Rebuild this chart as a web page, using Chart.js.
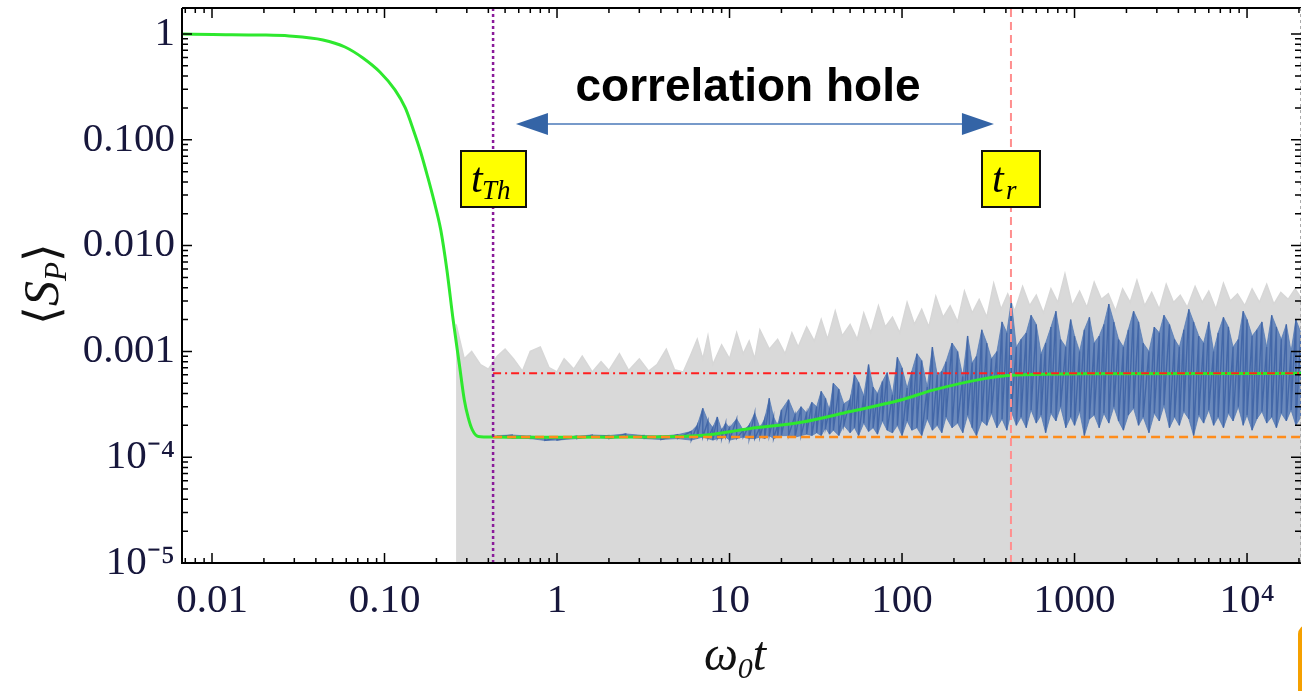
<!DOCTYPE html>
<html>
<head>
<meta charset="utf-8">
<script src="https://cdn.jsdelivr.net/npm/chart.js@4/dist/chart.umd.min.js"></script>
<style>
  html, body { margin: 0; padding: 0; background: #fff; }
  canvas { display: block; }
</style>
</head>
<body>
<canvas id="sp-chart" width="1302" height="691"></canvas>
<script>
// axis ranges and tick labels
var xMin = 0.0067, xMax = 20550, yMin = 1e-5, yMax = 1.76;
var xTickValues = [0.01, 0.1, 1, 10, 100, 1000, 10000];
var xTickLabels = ['0.01', '0.10', '1', '10', '100', '1000', '10\u2074'];
var yTickValues = [1e-5, 1e-4, 1e-3, 0.01, 0.1, 1];
var yTickLabels = ['10\u207b\u2075', '10\u207b\u2074', '0.001', '0.010', '0.100', '1'];

// markers
var tTh = 0.426, tR = 428;
var redLevel = 6.2e-4, orangeLevel = 1.55e-4;

// averaged curve (green)
var greenT = [0.0068, 0.0101, 0.019, 0.028, 0.044, 0.059, 0.075, 0.094, 0.115, 0.132,
    0.147, 0.162, 0.178, 0.193, 0.212, 0.23, 0.25, 0.272, 0.29, 0.306,
    0.323, 0.35, 0.42, 1, 3, 6.8, 13, 26, 50, 97,
    151, 295, 428, 1400, 20550];
var greenY = [1.0, 0.989, 0.978, 0.957, 0.878, 0.753, 0.593, 0.437, 0.296, 0.2,
    0.124, 0.0767, 0.0445, 0.027, 0.014, 0.00588, 0.00198, 7.4e-4, 3.5e-4, 2.35e-4,
    1.81e-4, 1.57e-4, 1.55e-4, 1.54e-4, 1.55e-4, 1.6e-4, 1.86e-4, 2.14e-4, 2.7e-4, 3.45e-4,
    4.3e-4, 5.5e-4, 5.95e-4, 6.15e-4, 6.2e-4];

// single realisation (blue), high / low excursions in units of 1e-4
var blueT = [0.45, 0.55, 0.7, 0.85, 1.0, 1.3, 1.6, 2.0, 2.5, 3.2, 4.0, 5.0, 6.0,
    6.5, 7, 7.5, 8, 8.5, 9, 9.5, 10, 11, 12, 13, 14, 15, 16, 17, 18, 19, 20, 22, 24, 26, 28, 30,
    32, 34, 36, 38, 40, 43, 46, 50, 53, 56,
    60, 64, 68, 72, 77, 82, 88, 94, 100, 107,
    114, 122, 130, 140, 150, 160, 170, 180, 195, 210,
    225, 240, 255, 270, 290, 310, 330, 355, 380, 405,
    430, 460, 490, 525, 560, 600, 640, 680, 730, 780,
    830, 890, 950, 1000, 1070, 1140, 1220, 1300, 1390, 1480,
    1580, 1690, 1800, 1920, 2050, 2200, 2350, 2500, 2700, 2900,
    3100, 3300, 3550, 3800, 4050, 4300, 4600, 4900, 5250, 5600,
    6000, 6400, 6800, 7300, 7800, 8300, 8900, 9500, 10000, 10700,
    11400, 12200, 13000, 13900, 14800, 15800, 16900, 18000, 19200, 20500];
var blueHi = [1.6, 1.62, 1.58, 1.55, 1.52, 1.58, 1.62, 1.6, 1.66, 1.6, 1.58, 1.63, 1.75,
    2.0, 2.9, 2.2, 1.9, 2.4, 1.8, 2.1, 1.9, 2.3, 1.8, 2.0, 2.6, 1.9, 2.3, 3.6, 2.4, 2.0, 2.8, 3.5, 2.5, 3.0, 2.6, 3.3,
    3.0, 4.2, 3.6, 2.8, 5.0, 4.4, 3.2, 3.5, 6.0, 5.1,
    3.8, 7.5, 4.6, 4.0, 5.2, 6.3, 3.9, 8.8, 7.0, 4.5,
    6.5, 9.5, 8.2, 4.6, 11, 6.0, 6.5, 8.0, 12, 10,
    5.8, 14, 7.8, 9.0, 16, 12, 8.5, 10, 19, 15,
    30, 11, 13, 15, 22, 18, 9.5, 12, 17, 24,
    13, 11, 20, 14, 10, 16, 21, 12, 14, 18,
    28, 19, 13, 11, 16, 24, 19, 12, 10, 17,
    15, 22, 18, 13, 11, 16, 25, 19, 14, 12,
    19, 10, 15, 21, 17, 11, 13, 24, 20, 14,
    16, 19, 11, 22, 17, 13, 18, 10, 20, 15];
var blueLo = [1.55, 1.52, 1.5, 1.44, 1.45, 1.5, 1.55, 1.5, 1.55, 1.5, 1.47, 1.5, 1.45,
    1.5, 1.55, 1.5, 1.45, 1.5, 1.5, 1.55, 1.45, 1.5, 1.55, 1.5, 1.5, 1.55, 1.5, 1.6, 1.5, 1.55, 1.6, 1.6, 1.55, 1.6, 1.65, 1.6,
    1.7, 1.6, 1.9, 1.65, 1.8, 1.6, 2.0, 1.7, 1.9, 1.6,
    2.1, 1.75, 1.9, 1.65, 2.2, 1.8, 1.7, 2.0, 1.6, 2.2,
    1.8, 1.9, 1.6, 2.3, 1.8, 2.0, 1.7, 2.4, 1.9, 2.1,
    1.7, 2.5, 1.9, 1.6, 2.2, 2.0, 2.6, 1.9, 2.3, 1.8,
    2.7, 2.0, 2.4, 1.9, 2.8, 2.1, 2.5, 1.7, 2.6, 2.2,
    3.0, 1.9, 2.4, 2.0, 2.7, 1.6, 2.3, 2.5, 1.9, 2.6,
    2.1, 3.0, 2.2, 1.8, 2.5, 2.9, 2.0, 2.4, 1.7, 2.6,
    2.2, 3.1, 1.9, 2.4, 2.0, 2.7, 2.3, 1.6, 2.5, 2.1,
    2.8, 2.0, 2.4, 1.9, 2.6, 2.2, 3.0, 2.0, 2.5, 1.8,
    2.3, 2.7, 2.1, 2.4, 1.9, 2.6, 2.2, 2.8, 2.0, 2.4];

// ensemble of realisations (grey band), upper envelope in units of 1e-4
var grayT = [0.26, 0.29, 0.32, 0.36, 0.4, 0.45, 0.5, 0.56, 0.63, 0.7,
    0.8, 0.9, 1.0, 1.1, 1.25, 1.4, 1.6, 1.8, 2.0, 2.3,
    2.6, 3.0, 3.4, 3.8, 4.3, 4.8, 5.4, 6, 6.5, 7,
    7.5, 8, 9, 10, 11, 12, 13, 14, 15, 17,
    19, 21, 23, 25, 28, 31, 34, 37, 41, 45,
    50, 55, 60, 66, 73, 80, 88, 97, 107, 118,
    130, 143, 157, 173, 190, 210, 230, 255, 280, 310,
    340, 375, 410, 450, 500, 550, 600, 660, 730, 800,
    880, 970, 1070, 1180, 1300, 1430, 1570, 1730, 1900, 2100,
    2300, 2550, 2800, 3100, 3400, 3750, 4100, 4500, 5000, 5500,
    6000, 6600, 7300, 8000, 8800, 9700, 10700, 11800, 13000, 14300,
    15700, 17300, 19000, 20550];
var grayTop = [18, 8.5, 10, 7.5, 6.8, 9, 10.5, 8.5, 6.5, 10,
    11, 7, 6.4, 8.5, 6.8, 9, 6.4, 8, 6.6, 9.5,
    6.6, 8.5, 6.5, 7.5, 10.5, 6.7, 6.4, 9.5, 13, 8.5,
    14, 7.5, 11.5, 8.5, 15, 9.5, 12.5, 8.5, 16, 10.5,
    13, 9.5, 15, 11, 17, 12.5, 20, 13, 24, 14,
    18, 13, 23, 15, 27, 17, 21, 15, 29, 18,
    25, 17, 33, 21, 27, 19, 37, 23, 31, 21,
    44, 25, 35, 24, 41, 27, 34, 23, 39, 29,
    54, 27, 37, 26, 45, 31, 35, 24, 39, 29,
    47, 27, 36, 25, 43, 29, 34, 26, 41, 29,
    37, 25, 44, 30, 35, 27, 39, 29, 43, 28,
    36, 31, 39, 32];

var greenData = greenT.map(function (t, i) { return { x: t, y: greenY[i] }; });
var grayData = grayT.map(function (t, i) { return { x: t, y: grayTop[i] * 1e-4 }; });
var blueHiData = blueT.map(function (t, i) { return { x: t, y: blueHi[i] * 1e-4 }; });
var blueLoData = blueT.map(function (t, i) { return { x: t, y: blueLo[i] * 1e-4 }; });
var blueZigzag = [];
blueT.forEach(function (t, i) {
    blueZigzag.push({ x: t, y: blueHi[i] * 1e-4 });
    blueZigzag.push({ x: t, y: blueLo[i] * 1e-4 });
});

var serif = '"Liberation Serif", "Times New Roman", serif';
var labelColor = '#17173c';

// frame, inward ticks, boxes, arrow and titles
var decorations = {
    id: 'decorations',
    afterDatasetsDraw: function (chart) {
        var ctx = chart.ctx, a = chart.chartArea;
        var xs = chart.scales.x, ys = chart.scales.y;
        ctx.save();

        // frame
        ctx.lineWidth = 2;
        ctx.strokeStyle = '#000';
        ctx.beginPath();
        ctx.moveTo(a.left, a.top); ctx.lineTo(a.right, a.top);
        ctx.moveTo(a.left, a.top); ctx.lineTo(a.left, a.bottom);
        ctx.lineTo(a.right, a.bottom);
        ctx.stroke();
        ctx.strokeStyle = '#aaa';
        ctx.lineWidth = 1;
        ctx.setLineDash([3, 3]);
        ctx.beginPath();
        ctx.moveTo(a.right - 0.5, a.top); ctx.lineTo(a.right - 0.5, a.bottom);
        ctx.stroke();
        ctx.setLineDash([]);

        // ticks
        ctx.strokeStyle = '#000';
        ctx.lineWidth = 1.5;
        ctx.beginPath();
        for (var k = -3; k <= 4; k++) {
            for (var m = 1; m <= 9; m++) {
                var v = m * Math.pow(10, k);
                var len = m === 1 ? 10 : 5;
                if (v >= xMin && v <= xMax) {
                    var px = xs.getPixelForValue(v);
                    ctx.moveTo(px, a.bottom); ctx.lineTo(px, a.bottom - len);
                    ctx.moveTo(px, a.top); ctx.lineTo(px, a.top + len);
                }
            }
        }
        for (var k2 = -5; k2 <= 0; k2++) {
            for (var m2 = 1; m2 <= 9; m2++) {
                var w = m2 * Math.pow(10, k2);
                var len2 = m2 === 1 ? 10 : 6;
                if (w >= yMin && w <= yMax) {
                    var py = ys.getPixelForValue(w);
                    ctx.moveTo(a.left, py); ctx.lineTo(a.left + len2, py);
                    ctx.moveTo(a.right, py); ctx.lineTo(a.right - len2, py);
                }
            }
        }
        ctx.stroke();

        // double arrow
        var ay = ys.getPixelForValue(0.141);
        var ax1 = xs.getPixelForValue(0.578), ax2 = xs.getPixelForValue(341);
        ctx.strokeStyle = '#4a78b8';
        ctx.lineWidth = 1.5;
        ctx.beginPath();
        ctx.moveTo(ax1 + 20, ay); ctx.lineTo(ax2 - 20, ay);
        ctx.stroke();
        ctx.fillStyle = '#3464a6';
        ctx.beginPath();
        ctx.moveTo(ax1, ay); ctx.lineTo(ax1 + 32, ay - 11); ctx.lineTo(ax1 + 32, ay + 11); ctx.closePath();
        ctx.moveTo(ax2, ay); ctx.lineTo(ax2 - 32, ay - 11); ctx.lineTo(ax2 - 32, ay + 11); ctx.closePath();
        ctx.fill();

        ctx.fillStyle = '#000';
        ctx.font = 'bold 46px "Liberation Sans", Arial, sans-serif';
        ctx.textAlign = 'center';
        ctx.textBaseline = 'alphabetic';
        ctx.fillText('correlation hole', 748, 101);

        // labelled boxes on the marker lines
        function box(t, w, sub, subDx) {
            var cx = xs.getPixelForValue(t);
            var left = Math.round(cx - w / 2);
            ctx.fillStyle = '#ffff00';
            ctx.fillRect(left, 151, w, 56);
            ctx.strokeStyle = '#111';
            ctx.lineWidth = 2;
            ctx.strokeRect(left, 151, w, 56);
            ctx.fillStyle = '#000';
            ctx.textAlign = 'left';
            ctx.font = 'italic 42px ' + serif;
            ctx.fillText('t', left + 10, 192);
            ctx.font = 'italic 27px ' + serif;
            ctx.fillText(sub, left + subDx, 199);
        }
        box(tTh, 65, 'Th', 21);
        box(tR, 58, 'r', 24);
        ctx.restore();
    },
    afterDraw: function (chart) {
        var ctx = chart.ctx;
        ctx.save();
        ctx.fillStyle = '#111';
        ctx.textBaseline = 'alphabetic';
        ctx.textAlign = 'left';

        // y title  <S_P>
        var parts = [
            { s: '\u27e8', f: '48px ' + serif, dy: 0 },
            { s: 'S', f: 'italic 50px ' + serif, dy: 0 },
            { s: 'P', f: 'italic 31px ' + serif, dy: 8 },
            { s: '\u27e9', f: '48px ' + serif, dy: 0 }
        ];
        var total = 0;
        parts.forEach(function (p) { ctx.font = p.f; p.w = ctx.measureText(p.s).width; total += p.w; });
        ctx.translate(58, 284);
        ctx.rotate(-Math.PI / 2);
        var x = -total / 2;
        parts.forEach(function (p) { ctx.font = p.f; ctx.fillText(p.s, x, p.dy); x += p.w; });
        ctx.setTransform(1, 0, 0, 1, 0, 0);

        // x title  omega_0 t
        var xp = [
            { s: '\u03c9', f: 'italic 48px ' + serif, dy: 0 },
            { s: '0', f: 'italic 30px ' + serif, dy: 8 },
            { s: 't', f: 'italic 48px ' + serif, dy: 0 }
        ];
        var tw = 0;
        xp.forEach(function (p) { ctx.font = p.f; p.w = ctx.measureText(p.s).width; tw += p.w; });
        var x2 = 735 - tw / 2;
        xp.forEach(function (p) { ctx.font = p.f; ctx.fillText(p.s, x2, 670 + p.dy); x2 += p.w; });

        // orange frame edge at the bottom right
        ctx.strokeStyle = '#f5a000';
        ctx.lineWidth = 4;
        ctx.beginPath();
        ctx.moveTo(1300, 691); ctx.lineTo(1300, 634);
        ctx.arcTo(1300, 627, 1307, 627, 7);
        ctx.stroke();
        ctx.restore();
    }
};

var spContext = document.getElementById('sp-chart').getContext('2d');
var spChart = new Chart(spContext, {
    type: 'line',
    data: {
        datasets: [
            {
                label: 'ensemble',
                data: grayData,
                borderColor: '#d7d7d7',
                backgroundColor: '#d9d9d9',
                borderWidth: 1.5,
                fill: 'start',
                order: 8
            },
            {
                label: 'realisation high',
                data: blueHiData,
                borderColor: 'rgba(82,120,180,0.75)',
                backgroundColor: 'rgba(82,120,182,0.82)',
                borderWidth: 1,
                fill: '+1',
                order: 7
            },
            {
                label: 'realisation low',
                data: blueLoData,
                borderColor: 'rgba(82,120,180,0.75)',
                borderWidth: 1,
                fill: false,
                order: 6
            },
            {
                label: 'realisation',
                data: blueZigzag,
                borderColor: 'rgba(60,98,165,0.85)',
                borderWidth: 1.4,
                fill: false,
                order: 5
            },
            {
                label: 'average',
                data: greenData,
                borderColor: '#2ee82e',
                borderWidth: 3,
                cubicInterpolationMode: 'monotone',
                fill: false,
                order: 3
            },
            {
                label: 'orange level',
                data: [{ x: tTh, y: orangeLevel }, { x: xMax, y: orangeLevel }],
                borderColor: '#ff8c1a',
                borderWidth: 2.5,
                borderDash: [9, 5],
                fill: false,
                order: 2
            },
            {
                label: 'red level',
                data: [{ x: tTh, y: redLevel }, { x: xMax, y: redLevel }],
                borderColor: '#ff1f1f',
                borderWidth: 2,
                borderDash: [8, 4, 2, 4],
                fill: false,
                order: 2
            },
            {
                label: 't_Th',
                data: [{ x: tTh, y: yMin }, { x: tTh, y: yMax }],
                borderColor: '#8a1a9a',
                borderWidth: 2.5,
                borderDash: [3, 3],
                fill: false,
                order: 1
            },
            {
                label: 't_r',
                data: [{ x: tR, y: yMin }, { x: tR, y: yMax }],
                borderColor: '#ff8f8f',
                borderWidth: 2,
                borderDash: [8, 5],
                fill: false,
                order: 1
            }
        ]
    },
    options: {
        responsive: false,
        animation: false,
        devicePixelRatio: 1,
        layout: { padding: { top: 8, right: 1, left: 0, bottom: 0 } },
        elements: { point: { radius: 0 }, line: { tension: 0 } },
        plugins: { legend: { display: false }, tooltip: { enabled: false }, filler: { propagate: false } },
        scales: {
            x: {
                type: 'logarithmic',
                min: xMin,
                max: xMax,
                grid: { display: false, drawTicks: false },
                border: { display: false },
                afterBuildTicks: function (s) { s.ticks = xTickValues.map(function (v) { return { value: v }; }); },
                afterFit: function (s) { s.height = 128; s.paddingLeft = 0; s.paddingRight = 0; },
                ticks: {
                    autoSkip: false,
                    maxRotation: 0,
                    padding: 14,
                    color: labelColor,
                    font: { family: 'Liberation Serif', size: 41 },
                    callback: function (v, i) { return xTickLabels[i]; }
                }
            },
            y: {
                type: 'logarithmic',
                min: yMin,
                max: yMax,
                grid: { display: false, drawTicks: false },
                border: { display: false },
                afterBuildTicks: function (s) { s.ticks = yTickValues.map(function (v) { return { value: v }; }); },
                afterFit: function (s) { s.width = 182; s.paddingTop = 0; s.paddingBottom = 0; },
                ticks: {
                    autoSkip: false,
                    padding: 7,
                    color: labelColor,
                    font: { family: 'Liberation Serif', size: 41 },
                    callback: function (v, i) { return yTickLabels[i]; }
                }
            }
        }
    },
    plugins: [decorations]
});
</script>
</body>
</html>
